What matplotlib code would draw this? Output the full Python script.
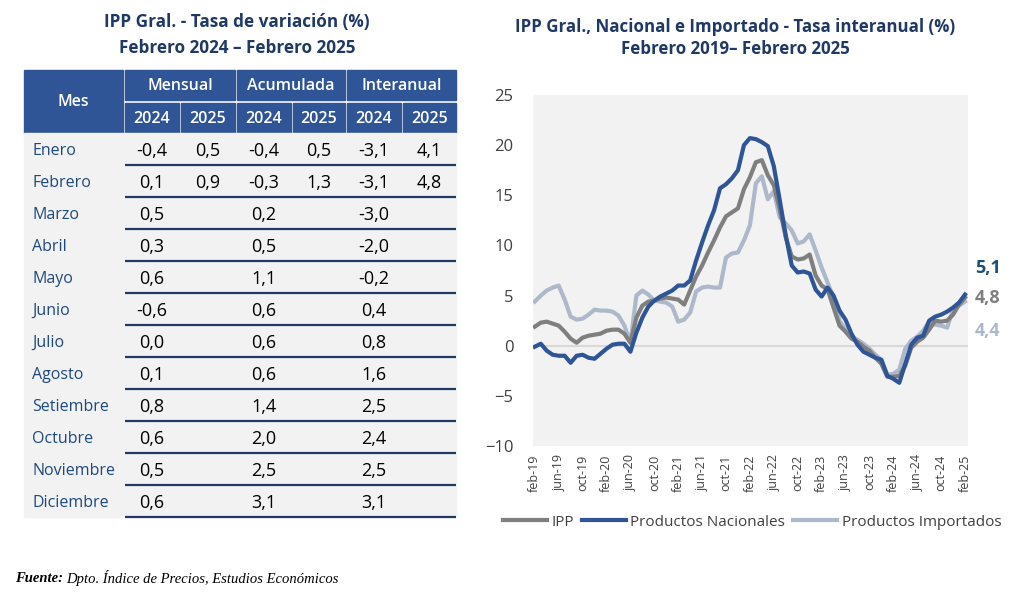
import matplotlib.pyplot as plt
from matplotlib.patches import Rectangle

plt.rcParams['font.family'] = ['Open Sans', 'DejaVu Sans']

# --- table data ---
meses = ['Enero', 'Febrero', 'Marzo', 'Abril', 'Mayo', 'Junio', 'Julio',
         'Agosto', 'Setiembre', 'Octubre', 'Noviembre', 'Diciembre']
mensual_2024 = [-0.4, 0.1, 0.5, 0.3, 0.6, -0.6, 0.0, 0.1, 0.8, 0.6, 0.5, 0.6]
mensual_2025 = [0.5, 0.9]
acum_2024 = [-0.4, -0.3, 0.2, 0.5, 1.1, 0.6, 0.6, 0.6, 1.4, 2.0, 2.5, 3.1]
acum_2025 = [0.5, 1.3]
inter_2024 = [-3.1, -3.1, -3.0, -2.0, -0.2, 0.4, 0.8, 1.6, 2.5, 2.4, 2.5, 3.1]
inter_2025 = [4.1, 4.8]

# --- chart data (feb-19 .. feb-25, monthly) ---
ipp = [1.9, 2.3, 2.4, 2.2, 2.0, 1.4, 0.7, 0.3, 0.8, 1.0, 1.1, 1.2,
       1.5, 1.6, 1.6, 1.2, 0.3, 2.8, 4.0, 4.4, 4.5, 4.7, 4.8, 4.7,
       4.6, 4.1, 5.5, 6.9, 8.0, 9.3, 10.5, 11.8, 12.9, 13.3, 13.7, 15.6,
       16.8, 18.3, 18.5, 17.0, 16.0, 13.6, 10.8, 8.9, 8.6, 8.7, 9.1, 7.0,
       6.0, 5.6, 3.8, 2.0, 1.4, 0.7, 0.4, -0.1, -0.5, -1.2, -1.8, -3.1,
       -3.1, -3.0, -2.0, -0.2, 0.4, 0.8, 1.6, 2.5, 2.4, 2.5, 3.1, 4.1,
       4.8]
nacionales = [-0.1, 0.2, -0.5, -0.9, -1.0, -1.0, -1.7, -1.0, -0.9, -1.2, -1.3, -0.8,
              -0.3, 0.1, 0.2, 0.2, -0.6, 1.3, 2.8, 3.9, 4.5, 4.9, 5.2, 5.5,
              6.0, 6.0, 6.5, 8.5, 10.3, 12.0, 13.5, 15.7, 16.1, 16.7, 17.5, 20.0,
              20.7, 20.6, 20.3, 19.9, 17.9, 14.5, 11.0, 8.0, 7.3, 7.4, 7.2, 5.6,
              4.9, 5.8, 5.0, 3.5, 2.6, 1.2, 0.1, -0.6, -0.9, -1.2, -1.4, -3.0,
              -3.3, -3.7, -1.8, 0.1, 0.8, 1.0, 2.5, 2.9, 3.1, 3.4, 3.8, 4.3,
              5.1]
importados = [4.4, 5.0, 5.5, 5.8, 6.0, 4.6, 2.9, 2.6, 2.7, 3.1, 3.6, 3.5,
              3.5, 3.4, 3.0, 2.0, 0.3, 5.0, 5.5, 5.1, 4.5, 4.4, 4.3, 3.9,
              2.4, 2.6, 3.3, 5.4, 5.8, 5.9, 5.8, 5.8, 8.8, 9.2, 9.3, 10.5,
              12.0, 16.2, 16.9, 14.6, 15.4, 12.8, 12.2, 11.5, 10.2, 10.4, 11.1, 9.5,
              7.8, 6.3, 4.8, 2.5, 1.6, 0.9, 0.6, 0.2, -0.3, -0.9, -1.4, -2.9,
              -2.8, -2.4, -0.3, 0.5, 0.9, 1.5, 2.4, 2.1, 2.0, 1.8, 3.6, 4.0,
              4.4]
tick_labels = ['feb-19', 'jun-19', 'oct-19', 'feb-20', 'jun-20', 'oct-20',
               'feb-21', 'jun-21', 'oct-21', 'feb-22', 'jun-22', 'oct-22',
               'feb-23', 'jun-23', 'oct-23', 'feb-24', 'jun-24', 'oct-24', 'feb-25']

navy = '#1f3864'
head_blue = '#2f5597'
c_ipp = '#7f7f7f'
c_nac = '#2f5597'
c_imp = '#adb9ca'

def fmt(v):
    return f'{v:.1f}'.replace('.', ',')

fig = plt.figure(figsize=(10.16, 6.02), dpi=100)

# ---------- left: table drawn in pixel space ----------
tab = fig.add_axes([0, 0, 1, 1])
tab.set_xlim(0, 1016)
tab.set_ylim(602, 0)
tab.axis('off')

tab.text(237, 22, 'IPP Gral. - Tasa de variación (%)', ha='center', va='center',
         fontsize=12.3, fontweight='bold', color=navy)
tab.text(237, 48, 'Febrero 2024 – Febrero 2025', ha='center', va='center',
         fontsize=12.3, fontweight='bold', color=navy)

# header
tab.add_patch(Rectangle((24, 70), 99, 63, color=head_blue))
tab.text(73, 102, 'Mes', ha='center', va='center', color='white', fontsize=11.5,
         fontweight='semibold')
groups = ['Mensual', 'Acumulada', 'Interanual']
col_x = [125, 181, 237, 293, 347, 403]
col_w = [54, 54, 54, 52, 54, 53]
for g, name in enumerate(groups):
    x0 = col_x[2 * g]
    w = col_x[2 * g + 1] + col_w[2 * g + 1] - x0
    tab.add_patch(Rectangle((x0, 70), w, 30, color=head_blue))
    tab.text(x0 + w / 2, 86, name, ha='center', va='center', color='white',
             fontsize=11.5, fontweight='semibold')
    for k, yr in enumerate(['2024', '2025']):
        cx = col_x[2 * g + k]
        tab.add_patch(Rectangle((cx, 103), col_w[2 * g + k], 30, color=head_blue))
        tab.text(cx + col_w[2 * g + k] / 2, 119, yr, ha='center', va='center',
                 color='white', fontsize=11.5, fontweight='semibold')

# body
row_h = 32
top = 133
tab.add_patch(Rectangle((24, top), 432, row_h * len(meses), color='#f2f2f2'))
series_2024 = [mensual_2024, acum_2024, inter_2024]
series_2025 = [mensual_2025, acum_2025, inter_2025]
for r, mes in enumerate(meses):
    yc = top + r * row_h + 18
    tab.text(32, yc, mes, ha='left', va='center', color='#1f497d', fontsize=11.5)
    for g in range(3):
        cx = col_x[2 * g] + col_w[2 * g] / 2
        tab.text(cx, yc, fmt(series_2024[g][r]), ha='center', va='center',
                 color='black', fontsize=13)
        if r < len(series_2025[g]):
            cx = col_x[2 * g + 1] + col_w[2 * g + 1] / 2
            tab.text(cx, yc, fmt(series_2025[g][r]), ha='center', va='center',
                     color='black', fontsize=13)
    yl = top + (r + 1) * row_h
    tab.plot([125, 456], [yl, yl], color=navy, lw=1.6, solid_capstyle='butt')

# footer
tab.text(15, 578, 'Fuente:', family='Liberation Serif', style='italic',
         fontweight='bold', fontsize=10.5, va='center')
tab.text(66, 578, 'Dpto. Índice de Precios, Estudios Económicos', family='Liberation Serif',
         style='italic', fontsize=10.5, va='center')

# chart titles
tab.text(735, 27, 'IPP Gral., Nacional e Importado - Tasa interanual (%)', ha='center',
         va='center', fontsize=12.2, fontweight='bold', color=navy)
tab.text(735, 49, 'Febrero 2019– Febrero 2025', ha='center', va='center',
         fontsize=12.2, fontweight='bold', color=navy)

# ---------- right: line chart ----------
ax = fig.add_axes([533 / 1016, 1 - 446 / 602, 435 / 1016, 351 / 602])
ax.set_facecolor('#f2f2f2')
x = list(range(len(ipp)))
ax.axhline(0, color='#d9d9d9', lw=1.5, zorder=1)
ax.plot(x, importados, color=c_imp, lw=3, label='Productos Importados', zorder=2)
ax.plot(x, ipp, color=c_ipp, lw=3, label='IPP', zorder=3)
ax.plot(x, nacionales, color=c_nac, lw=3, label='Productos Nacionales', zorder=4)
ax.set_xlim(-0.3, 72.5)
ax.set_ylim(-10, 25)
ax.set_yticks(range(-10, 26, 5))
ax.set_xticks(x[::4])
ax.set_xticklabels(tick_labels, rotation=90)
ax.tick_params(axis='y', length=0, labelsize=12, labelcolor='#404040', pad=14)
ax.tick_params(axis='x', length=0, labelsize=9, labelcolor='#404040', pad=6)
for s in ax.spines.values():
    s.set_visible(False)

ax.annotate(fmt(nacionales[-1]), (x[-1], nacionales[-1]), xytext=(7, 19),
            textcoords='offset points', color='#1f4e79', fontsize=13,
            fontweight='bold', va='center', annotation_clip=False)
ax.annotate(fmt(ipp[-1]), (x[-1], ipp[-1]), xytext=(7, 0),
            textcoords='offset points', color=c_ipp, fontsize=13,
            fontweight='bold', va='center', annotation_clip=False)
ax.annotate(fmt(importados[-1]), (x[-1], importados[-1]), xytext=(7, -21),
            textcoords='offset points', color=c_imp, fontsize=13,
            fontweight='bold', va='center', annotation_clip=False)

handles, labels = ax.get_legend_handles_labels()
order = [1, 2, 0]
fig.legend([handles[i] for i in order], [labels[i] for i in order], loc='center',
           bbox_to_anchor=(752 / 1016, 1 - 522 / 602), ncol=3, frameon=False,
           handlelength=2.9, handletextpad=0.3, columnspacing=0.5,
           prop={'size': 11}, labelcolor='#404040')

fig.savefig('out.png', dpi=100)
